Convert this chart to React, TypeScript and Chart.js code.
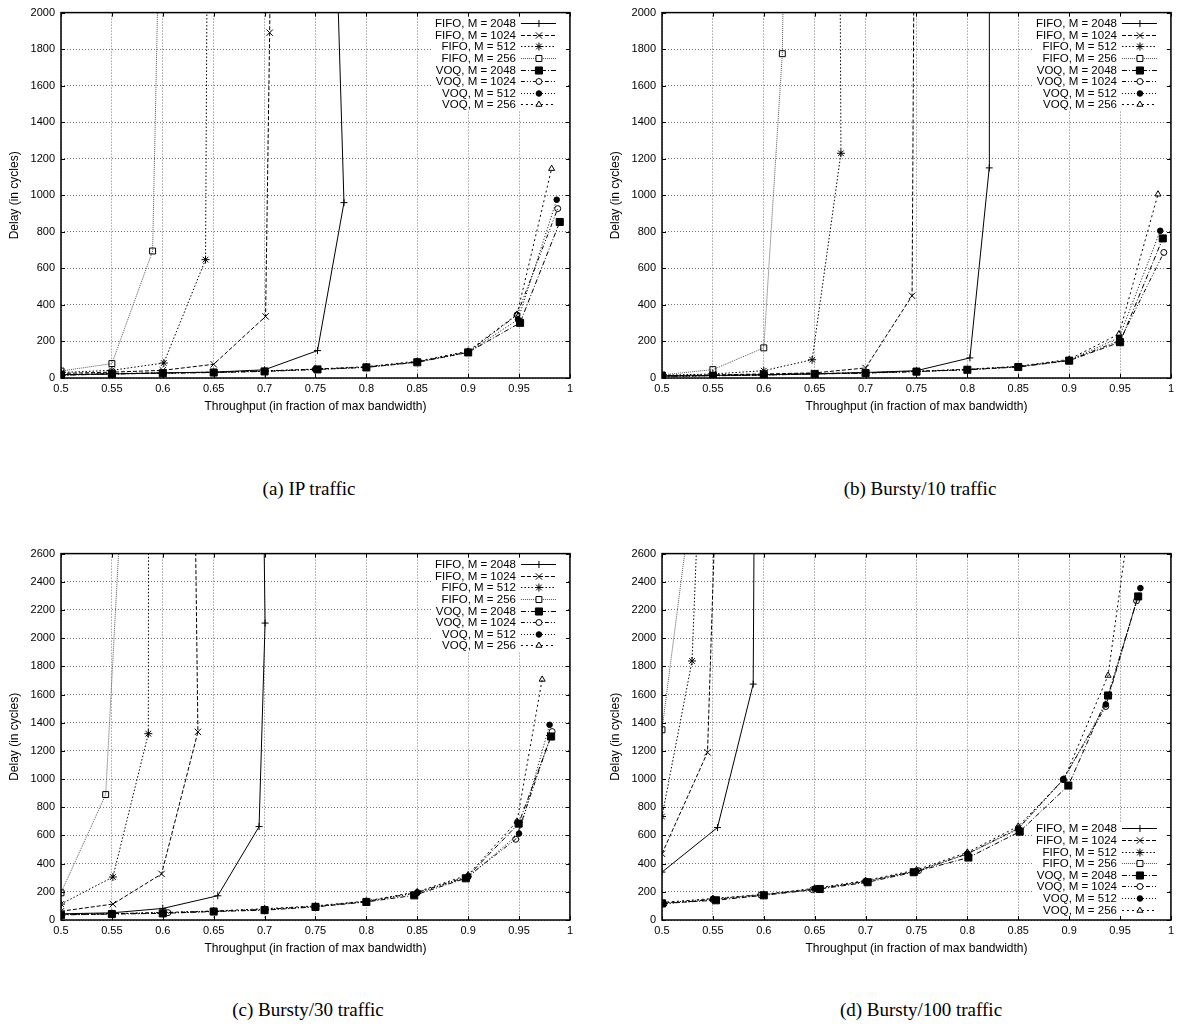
import React, { useEffect, useRef } from "react";
import { Chart, registerables } from "chart.js";

Chart.register(...registerables);

type Pt = [number, number];

const SERIES_LABELS = [
  "FIFO, M = 2048",
  "FIFO, M = 1024",
  "FIFO, M = 512",
  "FIFO, M = 256",
  "VOQ, M = 2048",
  "VOQ, M = 1024",
  "VOQ, M = 512",
  "VOQ, M = 256",
];
const X_TICKS = [0.5, 0.55, 0.6, 0.65, 0.7, 0.75, 0.8, 0.85, 0.9, 0.95, 1];
const X_TICK_LABELS = ["0.5", "0.55", "0.6", "0.65", "0.7", "0.75", "0.8", "0.85", "0.9", "0.95", "1"];
const Y_TICKS_2000 = [0, 200, 400, 600, 800, 1000, 1200, 1400, 1600, 1800, 2000];
const Y_TICKS_2600 = [0, 200, 400, 600, 800, 1000, 1200, 1400, 1600, 1800, 2000, 2200, 2400, 2600];
const X_TITLE = "Throughput (in fraction of max bandwidth)";
const Y_TITLE = "Delay (in cycles)";
const CAPTIONS = ["(a) IP traffic", "(b) Bursty/10 traffic", "(c) Bursty/30 traffic", "(d) Bursty/100 traffic"];

// (a) IP traffic
const A_FIFO_2048: Pt[] = [[0.5, 18], [0.55, 22], [0.6, 28], [0.65, 32], [0.7, 45], [0.752, 150], [0.778, 960], [0.7714, 2200]];
const A_FIFO_1024: Pt[] = [[0.5, 25], [0.55, 32], [0.6, 42], [0.65, 75], [0.701, 337], [0.705, 1890], [0.7055, 2200]];
const A_FIFO_512: Pt[] = [[0.5, 30], [0.55, 42], [0.601, 82], [0.642, 648], [0.6435, 2200]];
const A_FIFO_256: Pt[] = [[0.5, 38], [0.55, 79], [0.59, 695], [0.5955, 2200]];
const A_VOQ_2048: Pt[] = [[0.5, 15], [0.55, 22], [0.6, 26], [0.65, 30], [0.7, 36], [0.752, 47], [0.8, 58], [0.85, 86], [0.9, 140], [0.951, 302], [0.99, 854]];
const A_VOQ_1024: Pt[] = [[0.5, 17], [0.55, 23], [0.6, 27], [0.65, 31], [0.7, 38], [0.75, 48], [0.8, 60], [0.85, 88], [0.9, 142], [0.948, 345], [0.988, 927]];
const A_VOQ_512: Pt[] = [[0.5, 16], [0.55, 23], [0.6, 27], [0.65, 31], [0.7, 37], [0.75, 47], [0.8, 59], [0.85, 87], [0.9, 141], [0.949, 320], [0.987, 976]];
const A_VOQ_256: Pt[] = [[0.5, 18], [0.55, 24], [0.6, 28], [0.65, 32], [0.7, 39], [0.75, 49], [0.8, 62], [0.85, 92], [0.9, 147], [0.948, 348], [0.982, 1146]];

// (b) Bursty/10 traffic
const B_FIFO_2048: Pt[] = [[0.5, 10], [0.55, 14], [0.6, 18], [0.65, 23], [0.7, 30], [0.75, 40], [0.8025, 110], [0.8215, 1150], [0.8216, 2200]];
const B_FIFO_1024: Pt[] = [[0.5, 12], [0.55, 17], [0.6, 22], [0.65, 28], [0.7, 55], [0.7457, 450], [0.7475, 2200]];
const B_FIFO_512: Pt[] = [[0.5, 15], [0.55, 22], [0.6, 40], [0.6475, 100], [0.6758, 1230], [0.675, 2200]];
const B_FIFO_256: Pt[] = [[0.5, 17], [0.55, 46], [0.6, 165], [0.6182, 1775], [0.6193, 2200]];
const B_VOQ_2048: Pt[] = [[0.5, 10], [0.55, 12], [0.6, 16], [0.65, 22], [0.7, 27], [0.75, 35], [0.8, 45], [0.85, 60], [0.9, 95], [0.95, 196], [0.992, 764]];
const B_VOQ_1024: Pt[] = [[0.5, 10], [0.55, 13], [0.6, 17], [0.65, 22], [0.7, 28], [0.75, 36], [0.8, 46], [0.85, 62], [0.9, 97], [0.95, 205], [0.993, 687]];
const B_VOQ_512: Pt[] = [[0.5, 11], [0.55, 13], [0.6, 17], [0.65, 23], [0.7, 28], [0.75, 36], [0.8, 46], [0.85, 62], [0.9, 98], [0.949, 220], [0.9895, 806]];
const B_VOQ_256: Pt[] = [[0.5, 12], [0.55, 14], [0.6, 18], [0.65, 24], [0.7, 29], [0.75, 37], [0.8, 48], [0.85, 64], [0.9, 102], [0.949, 241], [0.9873, 1006]];

// (c) Bursty/30 traffic
const C_FIFO_2048: Pt[] = [[0.5, 44], [0.55, 51], [0.6, 82], [0.654, 172], [0.6946, 663], [0.7005, 2107], [0.6993, 2800]];
const C_FIFO_1024: Pt[] = [[0.5, 62], [0.551, 113], [0.5988, 327], [0.6345, 1335], [0.632, 2800]];
const C_FIFO_512: Pt[] = [[0.5, 113], [0.551, 305], [0.5858, 1322], [0.586, 2800]];
const C_FIFO_256: Pt[] = [[0.5, 193], [0.5439, 890], [0.558, 2800]];
const C_VOQ_2048: Pt[] = [[0.5, 36], [0.55, 42], [0.6, 47], [0.65, 60], [0.7, 70], [0.75, 93], [0.8, 128], [0.847, 175], [0.8977, 296], [0.9496, 684], [0.9815, 1302]];
const C_VOQ_1024: Pt[] = [[0.5, 38], [0.55, 44], [0.605, 52], [0.65, 62], [0.7, 75], [0.75, 97], [0.8, 132], [0.85, 195], [0.9, 310], [0.9467, 573], [0.9825, 1337]];
const C_VOQ_512: Pt[] = [[0.5, 38], [0.55, 44], [0.6, 51], [0.65, 62], [0.7, 74], [0.75, 96], [0.8, 131], [0.85, 192], [0.9, 305], [0.95, 613], [0.98, 1385]];
const C_VOQ_256: Pt[] = [[0.5, 40], [0.55, 45], [0.6, 53], [0.65, 64], [0.7, 80], [0.75, 100], [0.8, 135], [0.85, 200], [0.9, 320], [0.948, 700], [0.9727, 1707]];

// (d) Bursty/100 traffic
const D_FIFO_2048: Pt[] = [[0.5, 340], [0.5545, 656], [0.5896, 1674], [0.5905, 2800]];
const D_FIFO_1024: Pt[] = [[0.5, 470], [0.5447, 1190], [0.5515, 2700]];
const D_FIFO_512: Pt[] = [[0.5, 734], [0.5295, 1838], [0.5348, 2800]];
const D_FIFO_256: Pt[] = [[0.5, 1350], [0.5258, 2800]];
const D_VOQ_2048: Pt[] = [[0.5, 118], [0.553, 140], [0.6, 175], [0.655, 220], [0.702, 268], [0.7473, 339], [0.801, 443], [0.8514, 627], [0.8992, 954], [0.9382, 1593], [0.9678, 2296]];
const D_VOQ_1024: Pt[] = [[0.502, 115], [0.55, 145], [0.597, 178], [0.648, 215], [0.7, 275], [0.752, 350], [0.8, 470], [0.85, 650], [0.8943, 999], [0.936, 1515], [0.9662, 2265]];
const D_VOQ_512: Pt[] = [[0.5, 120], [0.55, 150], [0.6, 180], [0.65, 222], [0.7, 272], [0.75, 348], [0.8, 468], [0.85, 645], [0.894, 995], [0.936, 1530], [0.97, 2355]];
const D_VOQ_256: Pt[] = [[0.5, 125], [0.55, 152], [0.6, 182], [0.65, 225], [0.7, 280], [0.75, 355], [0.8, 480], [0.85, 665], [0.895, 1000], [0.9382, 1735], [0.9586, 2800]];

const A_SERIES = [A_FIFO_2048, A_FIFO_1024, A_FIFO_512, A_FIFO_256, A_VOQ_2048, A_VOQ_1024, A_VOQ_512, A_VOQ_256];
const B_SERIES = [B_FIFO_2048, B_FIFO_1024, B_FIFO_512, B_FIFO_256, B_VOQ_2048, B_VOQ_1024, B_VOQ_512, B_VOQ_256];
const C_SERIES = [C_FIFO_2048, C_FIFO_1024, C_FIFO_512, C_FIFO_256, C_VOQ_2048, C_VOQ_1024, C_VOQ_512, C_VOQ_256];
const D_SERIES = [D_FIFO_2048, D_FIFO_1024, D_FIFO_512, D_FIFO_256, D_VOQ_2048, D_VOQ_1024, D_VOQ_512, D_VOQ_256];

const SANS = '"Liberation Sans", Arial, Helvetica, sans-serif';
const SERIF = '"Liberation Serif", "Times New Roman", Times, serif';

type LStyle = { color: string; dash: number[]; point: string; radius: number; filled: boolean };
const LINE_STYLES: LStyle[] = [
  { color: "#000", dash: [], point: "cross", radius: 3.5, filled: false },
  { color: "#000", dash: [4, 2], point: "crossRot", radius: 4.5, filled: false },
  { color: "#000", dash: [1.5, 2], point: "star", radius: 4, filled: false },
  { color: "#555", dash: [1, 1], point: "rect", radius: 4.2, filled: false },
  { color: "#000", dash: [5, 2, 1, 2], point: "rect", radius: 5, filled: true },
  { color: "#000", dash: [4, 2, 1, 2, 1, 2], point: "circle", radius: 3, filled: false },
  { color: "#000", dash: [1, 2], point: "circle", radius: 2.8, filled: true },
  { color: "#000", dash: [2, 3], point: "triangle", radius: 3.5, filled: false },
];

function drawMarker(ctx: CanvasRenderingContext2D, s: LStyle, x: number, y: number) {
  const r = s.radius;
  ctx.save();
  ctx.setLineDash([]);
  ctx.strokeStyle = "#000";
  ctx.fillStyle = "#000";
  ctx.lineWidth = 1;
  ctx.beginPath();
  const d = r * Math.SQRT1_2;
  switch (s.point) {
    case "cross":
      ctx.moveTo(x - r, y); ctx.lineTo(x + r, y); ctx.moveTo(x, y - r); ctx.lineTo(x, y + r);
      ctx.stroke();
      break;
    case "crossRot":
      ctx.moveTo(x - d, y - d); ctx.lineTo(x + d, y + d); ctx.moveTo(x - d, y + d); ctx.lineTo(x + d, y - d);
      ctx.stroke();
      break;
    case "star":
      ctx.moveTo(x - r, y); ctx.lineTo(x + r, y); ctx.moveTo(x, y - r); ctx.lineTo(x, y + r);
      ctx.moveTo(x - d, y - d); ctx.lineTo(x + d, y + d); ctx.moveTo(x - d, y + d); ctx.lineTo(x + d, y - d);
      ctx.stroke();
      break;
    case "rect":
      ctx.rect(x - d, y - d, 2 * d, 2 * d);
      if (s.filled) ctx.fill(); else { ctx.fillStyle = "#fff"; ctx.fill(); }
      ctx.stroke();
      break;
    case "circle":
      ctx.arc(x, y, r, 0, Math.PI * 2);
      if (s.filled) ctx.fill(); else { ctx.fillStyle = "#fff"; ctx.fill(); }
      ctx.stroke();
      break;
    case "triangle": {
      let a = 0;
      ctx.moveTo(x + Math.sin(a) * r, y - Math.cos(a) * r);
      a += (2 * Math.PI) / 3;
      ctx.lineTo(x + Math.sin(a) * r, y - Math.cos(a) * r);
      a += (2 * Math.PI) / 3;
      ctx.lineTo(x + Math.sin(a) * r, y - Math.cos(a) * r);
      ctx.closePath();
      if (s.filled) ctx.fill(); else { ctx.fillStyle = "#fff"; ctx.fill(); }
      ctx.stroke();
      break;
    }
  }
  ctx.restore();
}

const framePlugin = {
  id: "gnuFrame",
  afterDatasetsDraw(chart: any) {
    const { ctx, chartArea } = chart;
    const { left, right, top, bottom } = chartArea;
    const xs = chart.scales.x;
    const ys = chart.scales.y;
    ctx.save();
    ctx.setLineDash([]);
    ctx.strokeStyle = "#000";
    ctx.lineWidth = 1;
    ctx.beginPath();
    const tl = 4;
    xs.ticks.forEach((t: any) => {
      const px = Math.round(xs.getPixelForValue(t.value)) + 0.5;
      ctx.moveTo(px, bottom); ctx.lineTo(px, bottom - tl);
      ctx.moveTo(px, top); ctx.lineTo(px, top + tl);
    });
    ys.ticks.forEach((t: any) => {
      const py = Math.round(ys.getPixelForValue(t.value)) + 0.5;
      ctx.moveTo(left, py); ctx.lineTo(left + tl, py);
      ctx.moveTo(right, py); ctx.lineTo(right - tl, py);
    });
    ctx.stroke();
    ctx.lineWidth = 1.5;
    ctx.strokeRect(left, top, right - left, bottom - top);
    ctx.restore();
  },
};

function makeLegendPlugin(pos: "top" | "bottom") {
  const step = 11.6;
  const n = SERIES_LABELS.length;
  const rows = (chart: any) => {
    const { chartArea } = chart;
    const y0 = pos === "top" ? chartArea.top + 10.5 : chartArea.bottom - 10.5 - (n - 1) * step;
    return y0;
  };
  return {
    id: "gnuKey",
    beforeDatasetsDraw(chart: any) {
      const { ctx, chartArea } = chart;
      const y0 = rows(chart);
      const yTop = Math.max(chartArea.top, y0 - 6.5);
      const yBot = Math.min(chartArea.bottom, y0 + (n - 1) * step + 6.5);
      ctx.save();
      ctx.fillStyle = "#fff";
      ctx.fillRect(chartArea.right - 138, yTop, 134, yBot - yTop);
      ctx.restore();
    },
    afterDatasetsDraw(chart: any) {
      const { ctx, chartArea } = chart;
      const y0 = rows(chart);
      const right = chartArea.right;
      ctx.save();
      ctx.font = `11.5px ${SANS}`;
      ctx.textAlign = "right";
      ctx.textBaseline = "middle";
      ctx.fillStyle = "#000";
      SERIES_LABELS.forEach((lab, i) => {
        const y = Math.round(y0 + i * step) + 0.5;
        const s = LINE_STYLES[i];
        ctx.fillText(lab, right - 54, y);
        ctx.save();
        ctx.strokeStyle = s.color;
        ctx.lineWidth = 1;
        ctx.setLineDash(s.dash);
        ctx.beginPath();
        ctx.moveTo(right - 49, y);
        ctx.lineTo(right - 14, y);
        ctx.stroke();
        ctx.restore();
        drawMarker(ctx, s, right - 31, y);
      });
      ctx.restore();
    },
  };
}

type PanelProps = {
  series: Pt[][];
  yTicks: number[];
  legend: "top" | "bottom";
  left: number;
  top: number;
  height: number;
};

const CANVAS_W = 577;

function Panel({ series, yTicks, legend, left, top, height }: PanelProps) {
  const ref = useRef<HTMLCanvasElement>(null);
  useEffect(() => {
    const canvas = ref.current;
    if (!canvas) return;
    const yMax = yTicks[yTicks.length - 1];
    const chart = new Chart(canvas, {
      type: "line",
      data: {
        datasets: series.map((pts, i) => {
          const s = LINE_STYLES[i];
          return {
            label: SERIES_LABELS[i],
            data: pts.map(([x, y]) => ({ x, y })),
            borderColor: s.color,
            borderWidth: 1,
            borderDash: s.dash,
            tension: 0,
            fill: false,
            pointStyle: s.point as any,
            pointRadius: s.radius,
            pointBorderWidth: 1,
            pointBorderColor: "#000",
            pointBackgroundColor: s.filled ? "#000" : "rgba(0,0,0,0)",
          };
        }),
      },
      options: {
        responsive: false,
        animation: false,
        events: [],
        layout: { padding: { top: 12, right: 3, left: 0, bottom: 0 } },
        plugins: {
          legend: { display: false },
          tooltip: { enabled: false },
        },
        scales: {
          x: {
            type: "linear",
            min: 0.5,
            max: 1,
            afterBuildTicks: (s: any) => {
              s.ticks = X_TICKS.map((v) => ({ value: v }));
            },
            afterFit: (s: any) => {
              s.height = 52;
            },
            ticks: {
              autoSkip: false,
              maxRotation: 0,
              padding: 4,
              color: "#000",
              font: { family: SANS, size: 11 },
              callback: (_v: any, i: number) => X_TICK_LABELS[i],
            },
            grid: { color: "rgba(0,0,0,0.55)", lineWidth: 1, drawTicks: false },
            border: { display: false, dash: [1, 2] },
            title: {
              display: true,
              text: X_TITLE,
              color: "#000",
              font: { family: SANS, size: 12 },
              padding: { top: 0, bottom: 16 },
            },
          },
          y: {
            type: "linear",
            min: 0,
            max: yMax,
            afterBuildTicks: (s: any) => {
              s.ticks = yTicks.map((v) => ({ value: v }));
            },
            afterFit: (s: any) => {
              s.width = 61;
            },
            ticks: {
              autoSkip: false,
              padding: 6,
              color: "#000",
              font: { family: SANS, size: 11 },
              callback: (v: any) => String(v),
            },
            grid: { color: "rgba(0,0,0,0.55)", lineWidth: 1, drawTicks: false },
            border: { display: false, dash: [1, 2] },
            title: {
              display: true,
              text: Y_TITLE,
              color: "#000",
              font: { family: SANS, size: 12 },
              padding: { top: 7, bottom: 0 },
            },
          },
        },
      } as any,
      plugins: [makeLegendPlugin(legend), framePlugin],
    });
    return () => chart.destroy();
  }, []);
  return (
    <canvas
      ref={ref}
      width={CANVAS_W}
      height={height}
      style={{ position: "absolute", left, top, width: CANVAS_W, height }}
    />
  );
}

function Caption({ text, cx, cy }: { text: string; cx: number; cy: number }) {
  return (
    <div
      style={{
        position: "absolute",
        left: cx - 200,
        top: cy - 12,
        width: 400,
        height: 24,
        lineHeight: "24px",
        textAlign: "center",
        fontFamily: SERIF,
        fontSize: 19,
        color: "#000",
        whiteSpace: "nowrap",
      }}
    >
      {text}
    </div>
  );
}

export default function App() {
  return (
    <div
      style={{
        position: "absolute",
        left: 0,
        top: 0,
        width: 1178,
        height: 1028,
        background: "#fff",
        overflow: "hidden",
      }}
    >
      <Panel series={A_SERIES} yTicks={Y_TICKS_2000} legend="top" left={0} top={0} height={430} />
      <Panel series={B_SERIES} yTicks={Y_TICKS_2000} legend="top" left={601} top={0} height={430} />
      <Panel series={C_SERIES} yTicks={Y_TICKS_2600} legend="top" left={0} top={541} height={431} />
      <Panel series={D_SERIES} yTicks={Y_TICKS_2600} legend="bottom" left={601} top={541} height={431} />
      <Caption text={CAPTIONS[0]} cx={309} cy={489} />
      <Caption text={CAPTIONS[1]} cx={920} cy={489} />
      <Caption text={CAPTIONS[2]} cx={308} cy={1010} />
      <Caption text={CAPTIONS[3]} cx={921} cy={1010} />
    </div>
  );
}
